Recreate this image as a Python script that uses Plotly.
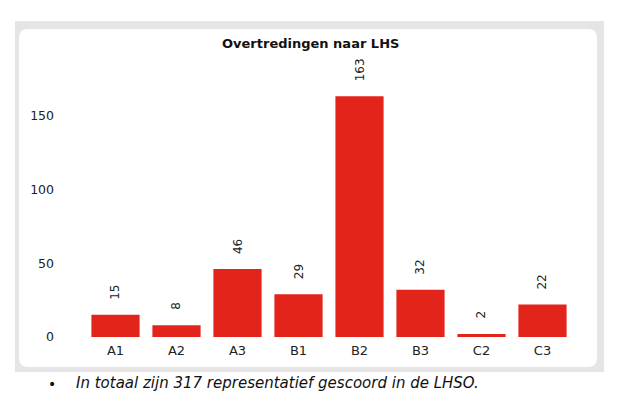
import plotly.graph_objects as go

categories = ["A1", "A2", "A3", "B1", "B2", "B3", "C2", "C3"]
values = [15, 8, 46, 29, 163, 32, 2, 22]
y_ticks = [0, 50, 100, 150]
title_text = "Overtredingen naar LHS"
note_text = "In totaal zijn 317 representatief gescoord in de LHSO."

OFF = 8  # page body margin
W, H = 624 - OFF, 400 - OFF
ML, MR, MT, MB = 85 - OFF, 51, 86 - OFF, 63
PW, PH = W - ML - MR, H - MT - MB


def px(x):
    return (x - OFF - ML) / PW


def py(y):
    return 1 - (y - OFF - MT) / PH


def rounded_rect(x0, y0, x1, y1, r):
    pts = [
        ("M", [(x0 + r, y0)]),
        ("L", [(x1 - r, y0)]),
        ("Q", [(x1, y0), (x1, y0 + r)]),
        ("L", [(x1, y1 - r)]),
        ("Q", [(x1, y1), (x1 - r, y1)]),
        ("L", [(x0 + r, y1)]),
        ("Q", [(x0, y1), (x0, y1 - r)]),
        ("L", [(x0, y0 + r)]),
        ("Q", [(x0, y0), (x0 + r, y0)]),
    ]
    s = ""
    for cmd, ps in pts:
        s += cmd + " " + " ".join(f"{px(a):.5f},{py(b):.5f}" for a, b in ps) + " "
    return s + "Z"


fig = go.Figure()
fig.add_trace(go.Bar(
    x=categories, y=values,
    marker=dict(color="#e3241a", line=dict(width=0)),
    hoverinfo="skip",
))

for c, v in zip(categories, values):
    fig.add_annotation(
        x=c, y=v, text=str(v), textangle=-90, showarrow=False,
        yanchor="bottom", xanchor="center", yshift=13,
        font=dict(family="DejaVu Sans", size=12, color="#222"),
    )

fig.add_annotation(
    xref="paper", yref="paper", x=px(310), y=py(44), text=f"<b>{title_text}</b>",
    showarrow=False, xanchor="center", yanchor="middle",
    font=dict(family="DejaVu Sans", size=13, color="#111"),
)

fig.add_annotation(
    xref="paper", yref="paper", x=px(46), y=py(384), text="•",
    showarrow=False, xanchor="left", yanchor="middle",
    font=dict(family="DejaVu Sans", size=14, color="#111"),
)
fig.add_annotation(
    xref="paper", yref="paper", x=px(74), y=py(383), text=f"<i>{note_text}</i>",
    showarrow=False, xanchor="left", yanchor="middle",
    font=dict(family="DejaVu Sans", size=15, color="#111"),
)

fig.add_shape(type="rect", xref="paper", yref="paper",
              x0=px(15), x1=px(604), y0=py(372), y1=py(21),
              fillcolor="#e6e4e4", line=dict(width=0), layer="below")
fig.add_shape(type="path", xref="paper", yref="paper",
              path=rounded_rect(19, 29, 597, 367, 9),
              fillcolor="#ffffff", line=dict(width=0), layer="below")

fig.update_layout(
    width=W, height=H,
    margin=dict(l=ML, r=MR, t=MT, b=MB),
    paper_bgcolor="#ffffff", plot_bgcolor="rgba(0,0,0,0)",
    showlegend=False, bargap=0.21,
    font=dict(family="DejaVu Sans", size=12, color="#222"),
    xaxis=dict(showgrid=False, zeroline=False, showline=False, ticks="",
               ticklabelstandoff=4,
               tickfont=dict(size=13, color="#222")),
    yaxis=dict(range=[0, 170], tickvals=y_ticks, showgrid=False, zeroline=False,
               showline=False, ticks="", ticklabelstandoff=30,
               tickfont=dict(size=12.5, color="#222")),
)

fig.write_html("out.html")
